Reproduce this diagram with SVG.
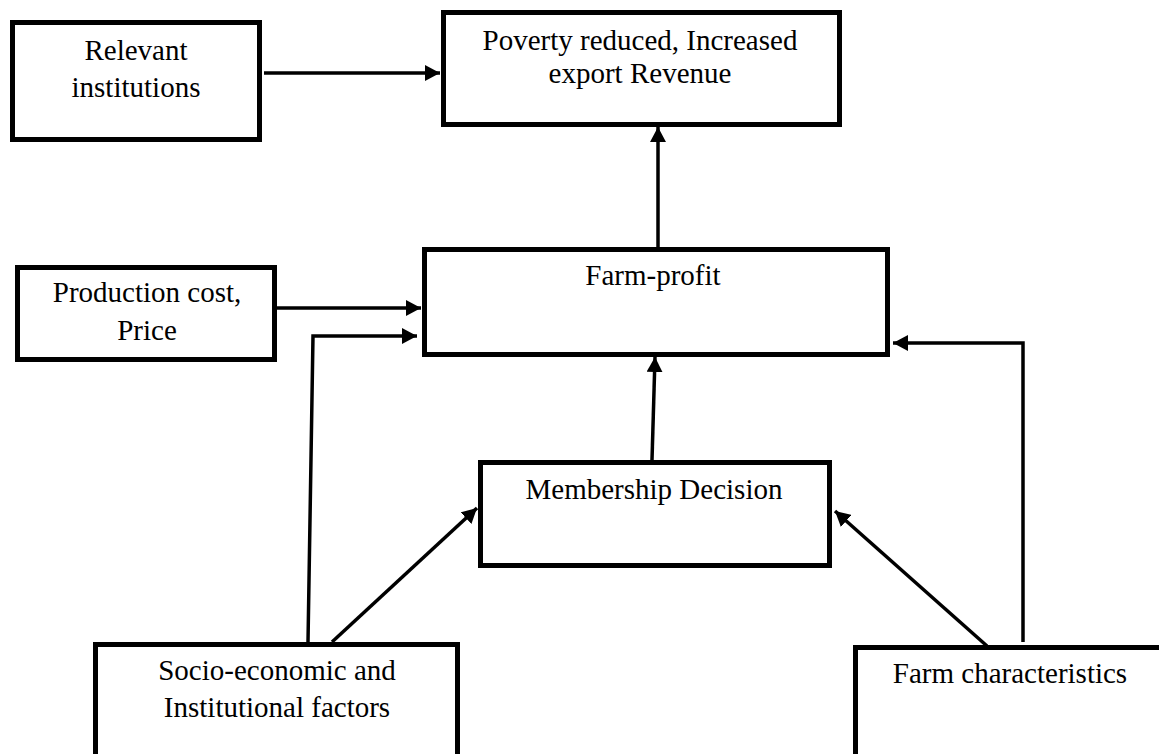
<svg xmlns="http://www.w3.org/2000/svg" width="1159" height="754" viewBox="0 0 1159 754">
  <style>
    .box { fill: #ffffff; stroke: #000000; stroke-width: 5; }
    .lbl { font-size: 29px; fill: #000000; text-anchor: middle; }
    .conn { fill: none; stroke: #000000; stroke-width: 3.5; }
  </style>
  <defs>
    <marker id="arrow" markerUnits="userSpaceOnUse" markerWidth="16" markerHeight="16" refX="15" refY="8" orient="auto">
      <path d="M0,0 L15,8 L0,16 Z" fill="#000000"/>
    </marker>
  </defs>
  <rect width="1159" height="754" fill="#ffffff"/>

  <g font-family="Liberation Serif, serif">
  <g id="node-relevant">
    <rect class="box" x="12.5" y="22.5" width="247" height="117"/>
    <text class="lbl" x="136" y="60">Relevant</text>
    <text class="lbl" x="136" y="97">institutions</text>
  </g>
  <g id="node-poverty">
    <rect class="box" x="443.5" y="12.5" width="396" height="112"/>
    <text class="lbl" x="640" y="50">Poverty reduced, Increased</text>
    <text class="lbl" x="640" y="83">export Revenue</text>
  </g>
  <g id="node-production">
    <rect class="box" x="17.5" y="267.5" width="257" height="92"/>
    <text class="lbl" x="147" y="302">Production cost,</text>
    <text class="lbl" x="147" y="340">Price</text>
  </g>
  <g id="node-farmprofit">
    <rect class="box" x="424.5" y="249.5" width="463" height="105"/>
    <text class="lbl" x="653" y="285">Farm-profit</text>
  </g>
  <g id="node-membership">
    <rect class="box" x="480.5" y="462.5" width="349" height="103"/>
    <text class="lbl" x="654" y="499">Membership Decision</text>
  </g>
  <g id="node-socio">
    <rect class="box" x="95.5" y="644.5" width="362" height="130"/>
    <text class="lbl" x="277" y="680">Socio-economic and</text>
    <text class="lbl" x="277" y="717">Institutional factors</text>
  </g>
  <g id="node-farmchar">
    <rect class="box" x="855.5" y="647.5" width="320" height="130"/>
    <text class="lbl" x="1010" y="683">Farm characteristics</text>
  </g>
  </g>

  <g id="connectors">
    <line class="conn" x1="264" y1="73" x2="440" y2="73" marker-end="url(#arrow)"/>
    <line class="conn" x1="658" y1="247" x2="658" y2="127" marker-end="url(#arrow)"/>
    <line class="conn" x1="277" y1="308" x2="421" y2="308" marker-end="url(#arrow)"/>
    <polyline class="conn" points="308,642 313,336 417,336" marker-end="url(#arrow)"/>
    <line class="conn" x1="332" y1="642" x2="477" y2="508" marker-end="url(#arrow)"/>
    <line class="conn" x1="652" y1="460" x2="655" y2="357" marker-end="url(#arrow)"/>
    <line class="conn" x1="987" y1="646" x2="835" y2="511" marker-end="url(#arrow)"/>
    <polyline class="conn" points="1023,642 1023,343 893,343" marker-end="url(#arrow)"/>
  </g>
</svg>
